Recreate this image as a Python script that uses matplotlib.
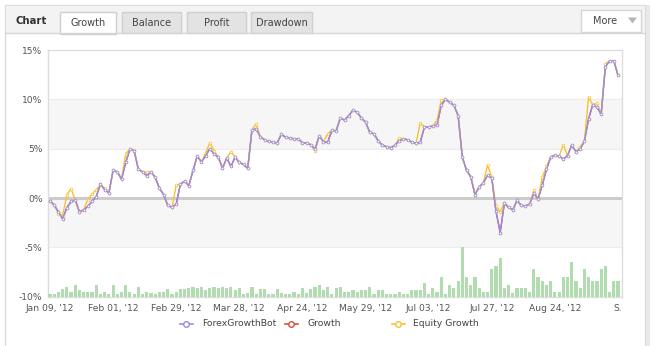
import matplotlib
matplotlib.use("Agg")
import matplotlib.pyplot as plt
from matplotlib.patches import Rectangle, Polygon
from matplotlib.lines import Line2D
import numpy as np

# growth (%) of ForexGrowthBot, one value per trading point
growth = [
    -0.3, -0.7, -1.4, -2.1, -1.0, -0.35, -0.2, -1.4, -1.2, -0.85,
    -0.35, 0.15, 1.4, 0.85, 0.5, 2.8, 2.65, 1.9, 3.6, 4.95,
    4.8, 2.9, 2.65, 2.25, 2.65, 2.1, 1.0, 0.35, -0.75, -0.95,
    -0.6, 1.4, 1.7, 1.25, 2.8, 4.25, 3.65, 4.3, 5.0, 4.45,
    4.15, 3.0, 4.05, 3.2, 4.15, 3.6, 3.4, 3.0, 6.9, 7.0,
    6.2, 5.9, 5.75, 5.65, 5.6, 6.45, 6.15, 6.1, 6.0, 6.0,
    5.6, 5.55, 5.4, 4.95, 6.3, 5.7, 5.65, 6.85, 6.8, 8.1,
    7.9, 8.35, 8.9, 8.7, 8.1, 7.7, 6.65, 6.5, 5.8, 5.35,
    5.2, 5.1, 5.35, 5.8, 6.0, 5.9, 5.65, 5.55, 5.65, 7.2,
    7.2, 7.3, 7.4, 9.4, 10.0, 9.7, 9.4, 8.35, 4.15, 2.8,
    2.15, 0.35, 1.1, 1.55, 2.3, 2.0, -1.35, -3.5, -0.5, -0.95,
    -1.2, -0.25, -0.75, -0.8, -0.6, 0.5, -0.1, 1.3, 2.9, 4.15,
    4.35, 4.25, 3.95, 4.3, 5.35, 4.7, 4.95, 5.75, 8.0, 9.45,
    9.2, 8.5, 13.3, 13.9, 13.9, 12.45,
]

equity = [
    -0.3, -0.7, -1.6, -1.8, 0.3, 0.95, -0.2, -1.4, -1.2, -0.15,
    0.4, 0.85, 1.3, 1.0, 0.5, 2.8, 2.65, 1.9, 4.5, 4.95,
    4.9, 2.9, 2.65, 2.6, 2.65, 2.1, 1.0, 0.35, -0.75, -0.95,
    1.3, 1.4, 1.7, 1.25, 2.8, 4.25, 3.65, 4.6, 5.6, 4.8,
    4.15, 3.0, 4.05, 4.7, 4.15, 3.6, 3.4, 3.0, 6.9, 7.5,
    6.2, 5.9, 5.75, 5.65, 5.6, 6.45, 6.15, 6.1, 6.0, 6.0,
    5.6, 5.55, 5.4, 4.75, 6.3, 5.7, 6.5, 6.85, 6.8, 8.1,
    7.9, 8.35, 8.9, 8.7, 8.1, 7.7, 6.65, 6.5, 5.8, 5.35,
    5.2, 5.1, 5.35, 6.1, 6.0, 5.9, 5.65, 5.55, 7.6, 7.2,
    7.2, 7.3, 7.9, 9.9, 10.0, 9.7, 9.4, 8.35, 4.15, 2.8,
    2.15, 0.35, 1.1, 1.55, 3.35, 2.1, -0.8, -1.4, -0.5, -0.95,
    -1.2, -0.25, -0.75, -0.8, -0.6, 0.8, -0.1, 2.1, 3.2, 4.15,
    4.35, 4.25, 5.4, 4.3, 5.35, 4.7, 5.2, 5.75, 10.2, 9.45,
    9.6, 8.5, 13.6, 13.9, 13.9, 12.45,
]

# traded volume per point (relative units)
volume = [
    2.3, 2.3, 5, 7.3, 10, 5, 11.7, 6.7, 5, 4.3,
    4.3, 11.7, 2.3, 4.3, 2.3, 11.7, 2.3, 4.3, 11.7, 4.3,
    2.3, 10, 2.3, 4.3, 3.3, 2.3, 5, 4.3, 7.3, 2.3,
    4.3, 7.3, 7.3, 8.3, 10, 8.3, 10, 6.7, 8.3, 10,
    8.3, 9.3, 8.3, 9.3, 6.7, 8.3, 2.3, 3.3, 10, 2.3,
    7.3, 7.3, 2.3, 2.3, 7.3, 3.3, 2.3, 2.3, 4.3, 2.3,
    8.3, 3.3, 7.3, 10, 11.7, 6.7, 10, 2.3, 8.3, 10,
    4.3, 4.3, 6.7, 4.3, 6.7, 6.7, 10, 2.3, 6.7, 6.7,
    2.3, 2.3, 2.3, 4.3, 2.3, 2.3, 6.7, 6.7, 7, 14,
    2.3, 8.3, 4.3, 20, 2.3, 11.7, 8.3, 15.7, 50, 19.3,
    11.7, 19.3, 8.3, 4.3, 4.3, 27.3, 30.7, 38.3, 8.3, 11.7,
    4, 8.3, 8.3, 8.3, 4.3, 27.3, 19.3, 15.7, 11.7, 15.7,
    4.3, 4.3, 19.3, 19.3, 35, 15.7, 8.3, 27.3, 19.3, 15.7,
    15.7, 27.3, 30.7, 4.3, 15.7, 15.7,
]

tick_pos = [0, 15, 30, 45, 60, 75, 90, 105, 120, 135]
tick_labels = ["Jan 09, '12", "Feb 01, '12", "Feb 29, '12", "Mar 28, '12",
               "Apr 24, '12", "May 29, '12", "Jul 03, '12", "Jul 27, '12",
               "Aug 24, '12", "S."]

tabs = ["Growth", "Balance", "Profit", "Drawdown"]
series_names = ["ForexGrowthBot", "Growth", "Equity Growth"]

PURPLE = "#958de6"
RED = "#dd4b39"
YELLOW = "#f6c230"
GREEN = "#b0dcaf"

W, H = 654, 346
plt.rcParams["font.family"] = "DejaVu Sans"
fig = plt.figure(figsize=(W / 100, H / 100), dpi=100)

# pixel-space frame for the widget chrome
frame = fig.add_axes([0, 0, 1, 1], zorder=-5)
frame.set_xlim(0, W)
frame.set_ylim(H, 0)
frame.axis("off")

frame.add_patch(Rectangle((5, 5), 640, 360, facecolor="white", edgecolor="#dcdcdc", lw=1))
frame.add_patch(Rectangle((646, 5), 4, 360, facecolor="#e9e9e9", edgecolor="none"))
frame.add_patch(Rectangle((5.5, 5.5), 639, 27, facecolor="#f3f3f3", edgecolor="none"))
frame.plot([5, 645], [32.5, 32.5], color="#d6d6d6", lw=1)
frame.text(15, 21, "Chart", fontsize=7.3, fontweight="bold", color="#333333", va="center")

tab_boxes = [(60, 116), (122, 181), (187, 246), (251, 312)]
for name, (x0, x1) in zip(tabs, tab_boxes):
    if name == "Growth":
        frame.add_patch(Rectangle((x0, 12), x1 - x0, 21.5, facecolor="white",
                                  edgecolor="#cfcfcf", lw=1))
        frame.add_patch(Rectangle((x0 + 0.6, 31), x1 - x0 - 1.2, 3, facecolor="white",
                                  edgecolor="none"))
    else:
        frame.add_patch(Rectangle((x0, 12), x1 - x0, 20.5, facecolor="#e3e3e3",
                                  edgecolor="#cfcfcf", lw=1))
    frame.text((x0 + x1) / 2, 22.5, name, fontsize=7, color="#444444",
               ha="center", va="center")

frame.add_patch(Rectangle((581, 10), 60, 21.5, facecolor="white", edgecolor="#d6d6d6", lw=1))
frame.text(605, 21, "More", fontsize=7, color="#444444", ha="center", va="center")
frame.add_patch(Polygon([[628, 17.5], [637, 17.5], [632.5, 23.5]], closed=True,
                        facecolor="#b5b5b5", edgecolor="none"))

# plot area
left, right, top, bottom = 48, 622, 50, 296.7
rect = [left / W, 1 - bottom / H, (right - left) / W, (bottom - top) / H]
x = np.arange(len(growth))
xlim = (-0.47, len(growth) - 0.05)

bg = fig.add_axes(rect, zorder=0)
bg.set_xlim(*xlim)
bg.set_ylim(-10, 15)
for lo, hi in [(5, 10), (-5, 0)]:
    bg.axhspan(lo, hi, facecolor="#f6f6f6", edgecolor="none")
for yv in [-5, 5, 10]:
    bg.axhline(yv, color="#ececec", lw=0.8)
bg.axhline(0, color="#cccccc", lw=2.2)
for side in ["left", "right", "top", "bottom"]:
    bg.spines[side].set_color("#dddddd")
    bg.spines[side].set_linewidth(1)
bg.set_yticks([-10, -5, 0, 5, 10, 15])
bg.set_yticklabels(["-10%", "-5%", "0%", "5%", "10%", "15%"])
bg.set_xticks(tick_pos)
bg.set_xticklabels(tick_labels)
bg.tick_params(axis="both", length=0, labelsize=6.6, labelcolor="#555555")
bg.tick_params(axis="y", pad=4)
bg.tick_params(axis="x", pad=5)

vol = fig.add_axes(rect, zorder=1)
vol.patch.set_visible(False)
vol.set_xlim(*xlim)
vol.set_ylim(0, bottom - top)
vol.bar(x, volume, width=0.75, color=GREEN, edgecolor="none")
vol.axis("off")

ax = fig.add_axes(rect, zorder=2)
ax.patch.set_visible(False)
ax.set_xlim(*xlim)
ax.set_ylim(-10, 15)
ax.axis("off")
marker_kw = dict(marker="o", markersize=1.9, markerfacecolor="white", markeredgewidth=0.5)
ax.plot(x, growth, color=RED, lw=1.0, markeredgecolor=RED, **marker_kw)
ax.plot(x, equity, color=YELLOW, lw=1.0, markeredgecolor=YELLOW, **marker_kw)
ax.plot(x, growth, color=PURPLE, lw=1.0, markeredgecolor=PURPLE, **marker_kw)

# legend
legend_items = [(186, 202, PURPLE), (291, 307, RED), (398, 413, YELLOW)]
for name, (mx, tx, col) in zip(series_names, legend_items):
    frame.add_line(Line2D([mx - 6.5, mx + 6.5], [324, 324], color=col, lw=1.2))
    frame.add_line(Line2D([mx], [324], color=col, marker="o", markersize=4,
                          markerfacecolor="white", markeredgewidth=1.0))
    frame.text(tx, 324, name, fontsize=6.7, color="#444444", va="center")

fig.savefig("out.png", dpi=100)
